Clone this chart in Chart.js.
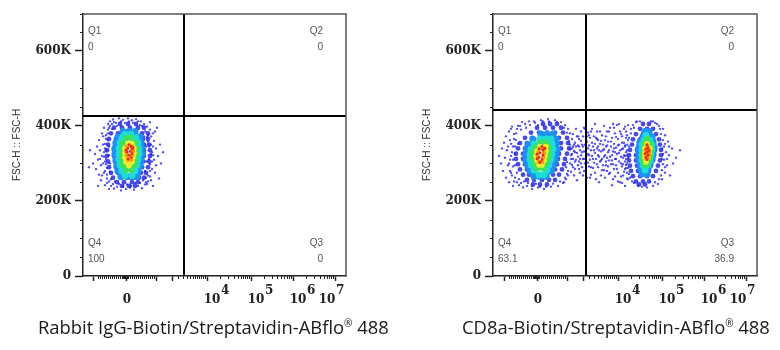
<!DOCTYPE html>
<html>
<head>
<meta charset="utf-8">
<title>Flow cytometry dot plots</title>
<script src="https://cdn.jsdelivr.net/npm/chart.js@4"></script>
<style>
    html, body { margin: 0; padding: 0; background: #fff; width: 780px; height: 350px; overflow: hidden; }
    canvas { position: absolute; top: 0; filter: blur(0.35px); }
    #chart-left { left: 0; }
    #chart-right { left: 410px; }
    .caption { position: absolute; top: 314px; white-space: nowrap; font: 18.4px "Open Sans", sans-serif; color: #1a1a1a; }
    .caption sup { font-size: 10px; line-height: 0; }
</style>
</head>
<body>
<canvas id="chart-left" width="390" height="350"></canvas>
<canvas id="chart-right" width="370" height="350"></canvas>
<div class="caption" id="caption-left" style="left:38px">Rabbit IgG-Biotin/Streptavidin-ABflo<sup>®</sup> 488</div>
<div class="caption" id="caption-right" style="left:462px">CD8a-Biotin/Streptavidin-ABflo<sup>®</sup> 488</div>
<script>
// Axis values. X is in display channels (biexponential), Y is in thousands
const yTickValues = [0, 200, 400, 600];
const yTickLabels = ['0', '200K', '400K', '600K'];
const yMinorTicks = [50, 100, 150, 250, 300, 350, 450, 500, 550, 650, 698];
const xMajorTicks = [-33, 0, 30, 46, 81, 125, 167, 209];
const xMinorTicks = [-28, -26, -24, -22, -20, -18, -16, -14, -12, -10, -8, -6, -4, -3, -2, -1, 1, 2, 4, 6, 8, 10, 12, 14, 16, 18, 20, 22, 24, 26, 28,
    52, 57, 61, 64, 67, 69, 71, 73, 75, 77, 79, 94, 102, 108, 112, 115, 117, 119, 121, 123,
    138, 146, 151, 155, 158, 161, 163, 165, 180, 188, 194, 198, 201, 203, 205, 207];
const xLabelTicks = [0, 81, 125, 167, 209];
const xTickLabels = ['0', '10', '10', '10', '10'];
const xTickPowers = ['', '4', '5', '6', '7'];

// Quadrant names and percentages
const quadrantNames = ['Q1', 'Q2', 'Q3', 'Q4'];
const leftPercents = ['0', '0', '0', '100'];
const rightPercents = ['0', '0', '36.9', '63.1'];

// Quadrant gates
const leftGate = [58, 426];
const rightGate = [49, 442];

// Left plot: events by density band
const leftRed = [[3,350],[5,345],[2,340],[6,338],[4,332],[1,330],[6,326],[3,322],[5,316],[2,312],[7,342],[0,336]];
const leftOrange = [[1,345],[6,345],[0,333],[7,333],[1,322],[6,322],[2,310],[5,310]];
const leftYellow = [[2,352],[6,352],[-1,340],[8,340],[-1,328],[8,328],[-1,316],[7,316],[0,304],[6,304],[3,294]];
const leftGreen = [[1,368],[5,368],[-3,355],[9,355],[-4,340],[10,340],[-4,325],[10,325],[-4,310],[9,310],[-3,295],[8,295],[0,283],[5,283]];
const leftCyan = [[-1,378],[5,378],[-4,368],[10,368],[-6,355],[12,355],[-7,340],[13,340],[-7,325],[13,325],[-7,310],[12,310],[-6,295],[11,295],[-4,280],[9,280],[-1,268],[6,268]];
const leftLightBlue = [[-3,385],[3,385],[9,385],[-8,370],[14,370],[-10,355],[15,355],[-11,340],[16,340],[-11,325],[16,325],[-10,310],[15,310],[-9,295],[14,295],[-8,280],[12,280],[-5,265],[1,265],[7,265],[11,265]];
const leftBlue = [[-6,405],[2,405],[10,405],[-12,395],[-4,395],[4,395],[12,395],[18,395],[-15,380],[-8,380],[16,380],[22,380],[-17,365],[-10,365],[17,365],[22,365],[-18,350],[-11,350],[18,350],[23,350],[-19,335],[-12,335],[18,335],[24,335],[-19,320],[-12,320],[18,320],[24,320],[-18,305],[-11,305],[17,305],[23,305],[-17,290],[-10,290],[16,290],[22,290],[-15,275],[-8,275],[15,275],[20,275],[-13,262],[-5,262],[5,262],[13,262],[18,262],[-9,250],[-2,250],[6,250],[12,250],[-4,240],[3,240],[9,240]];
const leftSpecks = [[-33,300],[-31,325],[-30,285],[-29,345],[-28,310],[-27,270],[-27,362],[-26,335],[-25,295],[-25,255],[-24,380],[-24,320],[-23,350],[-22,275],[-22,395],[-21,305],[-21,242],[-20,365],[-20,335],[-19,260],[-19,288],[-18,405],[-18,380],[-17,232],[-16,412],[-15,240],[-13,417],[-12,233],[-10,408],[-9,238],[-7,420],[-5,228],[-3,416],[0,232],[2,420],[4,236],[6,415],[8,230],[10,418],[12,240],[15,412],[16,234],[18,405],[19,244],[21,398],[22,252],[22,375],[24,390],[24,265],[25,350],[26,330],[26,285],[27,380],[27,240],[28,310],[28,360],[29,275],[30,340],[30,295],[31,395],[32,320],[33,260],[34,350],[35,300],[37,330],[-36,335],[-37,290],[24,410],[-28,240],[-23,300],[-24,268],[-26,312],[-22,330],[-23,372],[-21,352],[-20,312],[-21,280],[26,305],[27,345],[25,372],[25,255],[27,322],[29,385],[-17,395],[-19,248],[21,245],[-14,405],[14,402],
    [-22,318],[-21,340],[-20,298],[-20,375],[-19,270],[-18,390],[-17,252],[-16,400],[-15,258],[-14,392],[-13,245],[-12,410],[-11,252],[-9,400],[-7,245],[-5,412],[-3,238],[-1,408],[1,244],[3,412],[5,240],[7,408],[9,248],[12,412],[14,248],[16,400],[17,255],[19,385],[20,262],[21,370],[22,268],[23,345],[24,298],[25,325],[23,312],[22,358],[24,280],[20,250],[-18,362],[-17,322],[-16,278],[-17,345],[-16,300],[19,328],[20,345],[20,305],[19,280],[18,372]];

// Right plot: events by density band (two populations plus the spread between them)
const rightRed = [[5,345],[2,338],[6,335],[3,328],[0,324],[6,322],[2,316],[5,310],[3,303],[8,340],[0,312],[110,350],[111,342],[109,338],[112,334],[110,330],[108,326],[111,322],[109,316],[110,310]];
const rightOrange = [[3,340],[7,340],[1,328],[7,328],[1,316],[6,316],[2,304],[5,304],[110,345],[109,335],[112,335],[109,325],[112,325],[109,315],[111,315]];
const rightYellow = [[3,345],[9,345],[0,333],[9,333],[-1,320],[8,320],[0,308],[7,308],[2,296],[5,296],[110,352],[108,340],[113,340],[108,328],[112,328],[108,316],[111,316],[109,304]];
const rightGreen = [[3,355],[9,355],[-2,342],[12,342],[-4,328],[12,328],[-4,314],[11,314],[-3,300],[9,300],[0,287],[6,287],[110,365],[107,352],[113,352],[107,338],[114,338],[106,324],[113,324],[106,310],[112,310],[108,297],[110,297]];
const rightCyan = [[3,365],[9,365],[14,365],[-3,352],[15,352],[-6,338],[16,338],[-7,324],[15,324],[-7,310],[14,310],[-6,296],[12,296],[-3,282],[10,282],[2,270],[7,270],[109,375],[107,362],[113,362],[105,350],[115,350],[105,336],[115,336],[105,322],[114,322],[105,308],[113,308],[106,295],[111,295],[108,282]];
const rightLightBlue = [[4,378],[10,378],[16,378],[-4,364],[19,364],[-9,350],[19,350],[-10,336],[20,336],[-11,322],[19,322],[-11,308],[18,308],[-9,294],[16,294],[-7,280],[14,280],[-3,266],[3,266],[9,266],[108,385],[112,385],[106,370],[115,370],[103,356],[116,356],[102,342],[117,342],[102,328],[116,328],[102,314],[115,314],[103,300],[113,300],[104,286],[111,286],[105,272],[110,272]];
const rightBlue = [[6,405],[13,405],[20,405],[0,395],[8,395],[16,395],[24,395],[-6,382],[2,382],[10,382],[18,382],[26,382],[-12,368],[-5,368],[22,368],[30,368],[-17,354],[-10,354],[24,354],[31,354],[-19,340],[-12,340],[24,340],[32,340],[-21,326],[-14,326],[22,326],[30,326],[-21,312],[-14,312],[21,312],[28,312],[-19,298],[-12,298],[20,298],[27,298],[-17,284],[-10,284],[18,284],[25,284],[-14,270],[-8,270],[16,270],[22,270],[-10,256],[-3,256],[5,256],[12,256],[18,256],[-4,244],[3,244],[10,244],
    [106,405],[112,405],[103,392],[110,392],[116,392],[99,378],[106,378],[113,378],[119,378],[96,364],[103,364],[116,364],[122,364],[95,350],[102,350],[117,350],[123,350],[93,336],[100,336],[118,336],[124,336],[92,322],[99,322],[117,322],[124,322],[92,308],[99,308],[116,308],[123,308],[93,294],[100,294],[114,294],[121,294],[94,280],[101,280],[112,280],[119,280],[96,266],[103,266],[110,266],[116,266],[99,252],[106,252],[112,252],[102,244],[108,244]];
const rightSpecks = [[-38,320],[-36,300],[-35,340],[-34,280],[-33,355],[-32,315],[-31,262],[-31,372],[-30,335],[-29,295],[-28,250],[-28,385],[-27,310],[-26,352],[-26,275],[-25,330],[-25,398],[-24,292],[-24,240],[-23,365],[-22,345],[-22,262],[-21,380],[-20,250],[-19,400],[-18,242],[-16,390],[-14,236],[-12,405],[-10,240],[-8,412],[-5,232],[-2,408],[1,236],[4,415],[7,232],[11,418],[14,238],[18,415],[21,240],[24,410],[26,248],[28,402],[29,258],[31,392],[31,268],[33,380],[34,278],[35,365],[36,290],[37,350],[38,305],[38,330],[39,392],[40,255],[41,372],[41,318],[42,345],[42,285],[44,300],[44,360],[45,330],[46,268],[47,395],[47,312],[48,350],[49,285],[50,372],[51,340],[51,302],[52,322],[53,262],[54,385],[54,290],[55,355],[56,312],[57,335],[58,405],[58,275],[59,368],[60,298],[61,345],[61,322],[62,250],[63,385],[64,308],[64,360],[65,282],[66,335],[67,400],[67,318],[68,262],[69,372],[69,295],[70,348],[71,330],[72,308],[72,385],[73,275],[74,358],[75,322],[75,242],[76,298],[77,395],[77,340],[78,265],[79,370],[79,312],[80,285],[81,348],[82,328],[82,405],[83,250],[84,300],[84,378],[85,338],[86,268],[86,315],[87,392],[87,355],[88,285],[88,240],[89,330],[89,368],[90,300],[91,402],[91,258],[85,292],[78,330],[70,280],[60,365],[52,375],[46,345],[43,312],
    [127,345],[127,310],[128,375],[128,275],[129,330],[130,295],[131,358],[132,322],[133,268],[135,340],[136,300],[139,315],[143,335],[126,392],[125,258],[122,400],[121,245],[118,408],[116,240],[114,412],[110,236],[105,238],[100,412],[97,395],[94,380],[90,350],[88,320],[90,275],
    [33,350],[34,322],[35,340],[35,296],[36,378],[36,312],[37,268],[37,333],[38,355],[38,285],[39,345],[39,310],[40,328],[40,372],[41,295],[41,348],[42,305],[42,365],[43,335],[43,275],[44,322],[44,385],[45,350],[45,290],[46,312],[46,372],[47,332],[47,280],[48,300],[48,392],[49,345],[49,318],[50,358],[50,262],[51,325],[51,382],[52,292],[52,348],[53,310],[53,368],[54,335],[54,270],[55,320],[55,392],[56,345],[56,288],[57,302],[57,372],[58,328],[58,352],[59,312],[59,258],[60,340],[60,385],[61,290],[61,362],[62,318],[62,335],[63,305],[63,352],[64,332],[64,268],[65,375],[65,312],[66,350],[66,295],[67,338],[67,282],[68,322],[68,362],[69,345],[69,305],[70,385],[70,315],[71,292],[71,358],[72,335],[72,272],[73,318],[73,395],[74,345],[74,298],[75,368],[75,308],[76,332],[76,258],[77,352],[77,285],[78,312],[78,380],[79,342],[79,295],[80,325],[80,402],[81,365],[81,275],[82,305],[82,350],[83,335],[83,385],[84,318],[84,265],[85,355],[85,372],[86,298],[86,340],[87,322],[87,278],[88,348],[88,305],[89,385],[89,288],[90,335],[90,260],[91,362],[91,315],[92,345],[92,272],[88,398],[85,248],[81,252],[76,405],
    [-29,345],[-28,300],[-27,362],[-27,280],[-26,320],[-26,392],[-25,268],[-24,345],[-24,310],[-23,378],[-23,252],[-22,325],[-22,295],[-21,362],[-20,275],[-20,392],[-19,352],[-18,258],[-17,400],[-16,248],[-15,410],[-13,252],[-11,395],[-9,248],[-7,402],[-5,240],[-3,412],[-1,246],[1,402],[3,238],[6,412],[9,238],[12,412],[16,246],[20,410],[23,252],[27,395],[28,262],[30,382],[30,272],[32,360],[33,300],[33,338],[34,312],[27,250],[31,280],[35,325],[36,345],[29,290],[30,304],
    [88,345],[89,312],[90,322],[89,296],[90,375],[91,288],[92,368],[93,262],[94,392],[95,252],[96,402],[97,248],[99,410],[101,240],[103,412],[126,325],[126,298],[126,362],[125,340],[125,312],[125,282],[124,378],[124,268],[123,392],[122,258],[120,405],[118,250],[116,412],[128,352],[130,312],[132,345],[128,290]];

// Styles for the density bands, hottest first so it is drawn on top
const bandStyles = [
    { color: '#e62c14', radius: 1.4 },
    { color: '#ff9612', radius: 2.2 },
    { color: '#e6f02c', radius: 2.8 },
    { color: '#3ee05c', radius: 3.2 },
    { color: '#1fdcd6', radius: 3.4 },
    { color: '#1e90f0', radius: 3.6 },
    { color: 'rgba(26, 30, 216, 0.8)', radius: 2.4 },
    { color: 'rgba(30, 30, 225, 0.75)', radius: 1.2 }
];

// Tick marks, frame and quadrant text that the axes do not draw themselves
const plotExtras = {
    id: 'plotExtras',
    afterDraw(chart, args, opts) {
        const ctx = chart.ctx;
        const area = chart.chartArea;
        const x = chart.scales.x;
        const y = chart.scales.y;
        ctx.save();

        // Top and right side of the frame
        ctx.strokeStyle = '#555';
        ctx.lineWidth = 1.5;
        ctx.beginPath();
        ctx.moveTo(area.left, area.top);
        ctx.lineTo(area.right, area.top);
        ctx.lineTo(area.right, area.bottom);
        ctx.stroke();

        // Minor ticks
        ctx.strokeStyle = '#222';
        ctx.lineWidth = 1;
        ctx.beginPath();
        xMinorTicks.forEach(v => {
            const px = Math.round(x.getPixelForValue(v)) + 0.5;
            ctx.moveTo(px, area.bottom);
            ctx.lineTo(px, area.bottom + 3);
        });
        yMinorTicks.forEach(v => {
            const py = Math.round(y.getPixelForValue(v)) + 0.5;
            ctx.moveTo(area.left, py);
            ctx.lineTo(area.left - 3, py);
        });
        ctx.stroke();

        // X labels, the power sits up and to the right of the 10
        ctx.fillStyle = '#222';
        ctx.font = 'bold 12px "DejaVu Serif"';
        ctx.textBaseline = 'middle';
        xLabelTicks.forEach((v, i) => {
            const px = x.getPixelForValue(v);
            const shift = i === 0 ? 1 : (i === 4 ? -8 : 5);
            ctx.textAlign = 'center';
            ctx.fillText(xTickLabels[i], px + shift, area.bottom + 24);
            if (xTickPowers[i]) {
                ctx.textAlign = 'left';
                ctx.fillText(xTickPowers[i], px + shift + 9, area.bottom + 15);
            }
        });

        // Quadrant names and percentages
        ctx.fillStyle = '#555';
        ctx.font = '10px "Liberation Sans"';
        const leftX = area.left + 5;
        const rightX = area.right - 23;
        const topY = area.top + 17;
        const lowY = area.bottom - 33;
        const places = [[leftX, topY, 'left'], [rightX, topY, 'right'], [rightX, lowY, 'right'], [leftX, lowY, 'left']];
        places.forEach((p, i) => {
            ctx.textAlign = p[2];
            ctx.fillText(quadrantNames[i], p[0], p[1]);
            ctx.fillText(opts.percents[i], p[0], p[1] + 16);
        });
        ctx.restore();
    }
};

// Turn a list of [x, y] pairs into points for Chart.js
function toPoints(pairs) {
    return pairs.map(p => ({ x: p[0], y: p[1] }));
}

// Build one dot plot with its gate lines and density bands
function renderPlot(canvasId, bands, gate, percents, xMin, rightPad) {
    const datasets = [
        { data: toPoints([[gate[0], 0], [gate[0], 698]]), showLine: true, borderColor: '#000', borderWidth: 2, pointRadius: 0 },
        { data: toPoints([[xMin, gate[1]], [220, gate[1]]]), showLine: true, borderColor: '#000', borderWidth: 2, pointRadius: 0 }
    ];
    bands.forEach((band, i) => {
        datasets.push({
            data: toPoints(band),
            pointRadius: bandStyles[i].radius,
            pointBorderWidth: 0,
            pointBackgroundColor: bandStyles[i].color
        });
    });

    new Chart(document.getElementById(canvasId), {
        type: 'scatter',
        data: { datasets: datasets },
        options: {
            responsive: false,
            animation: false,
            layout: { padding: { top: 14, right: rightPad } },
            plugins: {
                legend: { display: false },
                tooltip: { enabled: false },
                plotExtras: { percents: percents }
            },
            scales: {
                x: {
                    min: xMin,
                    max: 220,
                    afterFit: axis => { axis.height = 74; },
                    afterBuildTicks: axis => { axis.ticks = xMajorTicks.map(v => ({ value: v })); },
                    grid: { drawOnChartArea: false, tickLength: 5, tickColor: '#222', tickWidth: 1.5 },
                    border: { color: '#222', width: 1.5 },
                    ticks: { display: false }
                },
                y: {
                    min: 0,
                    max: 698,
                    afterFit: axis => { axis.width = 83; },
                    afterBuildTicks: axis => { axis.ticks = yTickValues.map(v => ({ value: v })); },
                    grid: { drawOnChartArea: false, tickLength: 8, tickColor: '#222', tickWidth: 1.5 },
                    border: { color: '#222', width: 1.5 },
                    title: {
                        display: true,
                        text: 'FSC-H :: FSC-H',
                        color: '#333',
                        font: { family: '"Liberation Sans"', size: 10 },
                        padding: { top: 11, bottom: 0 }
                    },
                    ticks: {
                        padding: 4,
                        color: '#222',
                        font: { family: '"DejaVu Serif"', size: 12, weight: 'bold' },
                        callback: (value, index) => yTickLabels[index]
                    }
                }
            }
        },
        plugins: [plotExtras]
    });
}

renderPlot('chart-left', [leftRed, leftOrange, leftYellow, leftGreen, leftCyan, leftLightBlue, leftBlue, leftSpecks], leftGate, leftPercents, -43, 44);
renderPlot('chart-right', [rightRed, rightOrange, rightYellow, rightGreen, rightCyan, rightLightBlue, rightBlue, rightSpecks], rightGate, rightPercents, -44, 23);
</script>
</body>
</html>
